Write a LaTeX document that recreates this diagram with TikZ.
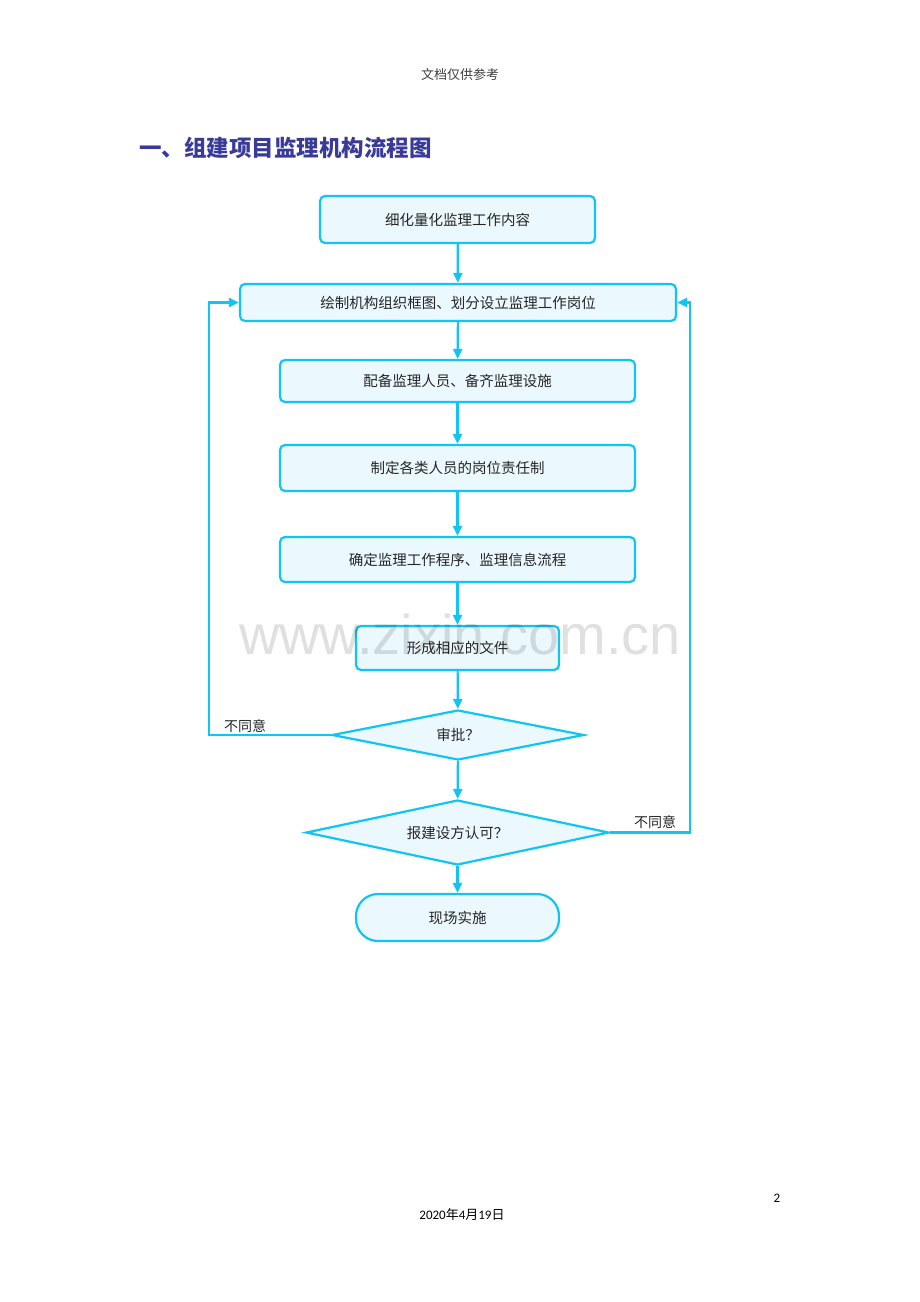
\documentclass[tikz,border=0pt]{standalone}
\usepackage{fontspec}
\setmainfont{Carlito}
\newfontfamily\cjk{Noto Sans CJK SC}
\newfontfamily\wmfont{Liberation Sans}
\usetikzlibrary{arrows.meta,shapes.geometric}
\definecolor{lc}{HTML}{10C4F4}
\definecolor{fc}{HTML}{EBF8FD}
\definecolor{tc}{HTML}{3A3A98}
\begin{document}
\begin{tikzpicture}[x=1pt,y=-1pt,
  box/.style={draw=lc,fill=fc,line width=2.2pt,rounded corners=5pt,inner sep=0pt,font=\cjk\fontsize{14.5}{16}\selectfont,text=black!85},
  dia/.style={draw=lc,fill=fc,line width=2.2pt,diamond,inner sep=0pt,font=\cjk\fontsize{14.5}{16}\selectfont,text=black!85},
  term/.style={draw=lc,fill=fc,line width=2.2pt,rounded corners=22pt,inner sep=0pt,font=\cjk\fontsize{14.5}{16}\selectfont,text=black!85},
  arr/.style={draw=lc,line width=2.2pt,-{Triangle[length=10pt,width=9pt]}},
  lab/.style={font=\cjk\fontsize{14}{16}\selectfont,text=black!85,inner sep=0pt}]
\useasboundingbox (0,0) rectangle (920,1302);
\fill[white] (0,0) rectangle (920,1302);
% header / footer
\node[font=\cjk\fontsize{13}{15}\selectfont,text=black!75] (hdr) at (460,75) {文档仅供参考};
\node[anchor=west,font=\cjk\bfseries\fontsize{22.5}{26}\selectfont,text=tc,inner sep=0pt] (ttl) at (139,148) {一、组建项目监理机构流程图};
\node[font=\fontsize{13}{15}\selectfont] (pg) at (777,1198) {2};
\node[font=\fontsize{13}{15}\selectfont] (dt) at (462,1215) {2020{\cjk 年}4{\cjk 月}19{\cjk 日}};
% boxes
\node[box,minimum width=275pt,minimum height=47pt] (b1) at (457.5,219.5) {细化量化监理工作内容};
\node[box,minimum width=436pt,minimum height=37pt] (b2) at (458,302.5) {绘制机构组织框图、划分设立监理工作岗位};
\node[box,minimum width=355pt,minimum height=42pt] (b3) at (457.5,381) {配备监理人员、备齐监理设施};
\node[box,minimum width=355pt,minimum height=46pt] (b4) at (457.5,468) {制定各类人员的岗位责任制};
\node[box,minimum width=355pt,minimum height=45pt] (b5) at (457.5,559.5) {确定监理工作程序、监理信息流程};
\node[box,minimum width=203pt,minimum height=44pt] (b6) at (457.5,648) {形成相应的文件};
\node[dia,aspect=5.04,minimum width=252pt,minimum height=50pt] (d1) at (458,735) {审批？};
\node[dia,aspect=4.66,minimum width=303pt,minimum height=65pt] (d2) at (457.5,832.5) {报建设方认可？};
\node[term,minimum width=203pt,minimum height=47pt] (t1) at (457.5,917.5) {现场实施};
% connectors
\draw[arr] (b1) -- (b2);
\draw[arr] (b2) -- (b3);
\draw[arr] (b3) -- (b4);
\draw[arr] (b4) -- (b5);
\draw[arr] (b5) -- (b6);
\draw[arr] (b6) -- (d1);
\draw[arr] (d1) -- (d2);
\draw[arr] (d2) -- (t1);
\coordinate (l1) at (209,735);
\coordinate (l2) at (209,302.5);
\coordinate (r1) at (690,832.5);
\coordinate (r2) at (690,302.5);
\draw[arr] (d1.west) -- (l1) -- (l2) -- (b2.west);
\draw[arr] (d2.east) -- (r1) -- (r2) -- (b2.east);
\node[lab] (n1) at (245,726) {不同意};
\node[lab] (n2) at (655,822) {不同意};
% watermark
\node[font=\wmfont\fontsize{56}{60}\selectfont,text=black,opacity=0.12,inner sep=0pt] (wm) at (460,634) {www.zixin.com.cn};
\end{tikzpicture}
\end{document}
